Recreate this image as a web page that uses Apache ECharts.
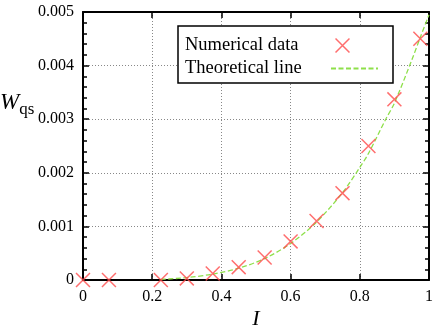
<!DOCTYPE html>
<html>
<head>
    <meta charset="utf-8">
    <title>W_qs vs I</title>
    <script src="https://cdn.jsdelivr.net/npm/echarts@6/dist/echarts.min.js"></script>
    <style>
        html, body { margin: 0; padding: 0; background: #fff; }
        #main { width: 436px; height: 333px; }
    </style>
</head>
<body>
    <div id="main"></div>
    <script type="text/javascript">
        // numerical data (crosses)
        var numI = [0, 0.075, 0.225, 0.3, 0.375, 0.45, 0.525, 0.6, 0.675, 0.75, 0.825, 0.9, 0.975];
        var numW = [0, 0, 0, 0.00003, 0.00012, 0.00024, 0.00042, 0.00072, 0.0011, 0.00162, 0.0025, 0.00337, 0.0045];
        // theoretical line
        var theoI = [0.225, 0.3, 0.375, 0.45, 0.525, 0.6, 0.675, 0.75, 0.8, 0.825, 0.875, 0.9, 0.95, 0.975, 1.0];
        var theoW = [0.00001, 0.000045, 0.00011, 0.00022, 0.0004, 0.00068, 0.00108, 0.00163, 0.0021, 0.00236, 0.0030, 0.0033, 0.0041, 0.00453, 0.00495];
        var xTicks = ['0', '0.2', '0.4', '0.6', '0.8', '1'];
        var yTicks = ['0', '0.001', '0.002', '0.003', '0.004', '0.005'];

        var serif = 'Liberation Serif';
        var crossPath = 'path://M0,0.7L0.7,0L10,9.3L9.3,10Z M9.3,0L10,0.7L0.7,10L0,9.3Z';
        // same cross for the legend, sitting in the left part of a 47x15 box
        var legendCross = 'path://M4,1.05L5.05,0L19,13.95L17.95,15Z M17.95,0L19,1.05L5.05,15L4,13.95Z M0,0 M47,15';

        function pairs(xs, ys) {
            return xs.map(function (x, i) { return [x, ys[i]]; });
        }

        var myChart = echarts.init(document.getElementById('main'));
        var axisLine = { show: true, onZero: false, lineStyle: { color: '#000', width: 2 } };
        var tick = { inside: true, length: 6, lineStyle: { color: '#000', width: 1.5 } };
        var minor = { show: true, splitNumber: 5, length: 4, lineStyle: { color: '#000', width: 1.5 } };
        var grid = { show: true, lineStyle: { color: '#888', width: 1, type: [1, 2] } };
        var tickRich = { a: { fontFamily: serif, fontSize: 16, color: '#000' } };

        var option = {
            animation: false,
            textStyle: { fontFamily: serif },
            grid: { left: 83, right: 7, top: 12, bottom: 53, containLabel: false, outerBoundsMode: 'none' },
            legend: {
                left: 178,
                top: 26,
                orient: 'vertical',
                align: 'right',
                padding: [10, 14, 5, 7],
                itemGap: 4,
                itemWidth: 47,
                itemHeight: 15,
                borderColor: '#000',
                borderWidth: 1.5,
                borderRadius: 0,
                backgroundColor: '#fff',
                formatter: function (name) { return '{t|' + name + '}'; },
                textStyle: {
                    fontFamily: serif, fontSize: 18, color: '#000',
                    rich: { t: { fontFamily: serif, fontSize: 18.5, color: '#000', width: 141, align: 'left', lineHeight: 16 } }
                },
                data: [
                    { name: 'Numerical data', icon: legendCross },
                    { name: 'Theoretical line', itemStyle: { opacity: 0 } }
                ]
            },
            xAxis: [{
                type: 'value',
                min: 0,
                max: 1,
                interval: 0.2,
                name: 'I',
                nameLocation: 'middle',
                nameGap: 28,
                nameMoveOverlap: false,
                nameTextStyle: { fontFamily: serif, fontStyle: 'italic', fontSize: 22, color: '#000' },
                axisLine: axisLine,
                axisTick: tick,
                axisLabel: {
                    margin: 9,
                    rich: tickRich,
                    formatter: function (v) { return '{a|' + xTicks[Math.round(v / 0.2)] + '}'; }
                },
                splitLine: grid
            }, {
                type: 'value',
                position: 'top',
                min: 0,
                max: 1,
                interval: 0.2,
                axisLine: axisLine,
                axisTick: tick,
                axisLabel: { show: false },
                splitLine: { show: false }
            }],
            yAxis: [{
                type: 'value',
                min: 0,
                max: 0.005,
                interval: 0.001,
                axisLine: axisLine,
                axisTick: tick,
                minorTick: minor,
                axisLabel: {
                    margin: 9,
                    rich: tickRich,
                    formatter: function (v) { return '{a|' + yTicks[Math.round(v / 0.001)] + '}'; }
                },
                splitLine: grid
            }, {
                type: 'value',
                position: 'right',
                min: 0,
                max: 0.005,
                interval: 0.001,
                axisLine: axisLine,
                axisTick: tick,
                minorTick: minor,
                axisLabel: { show: false },
                splitLine: { show: false }
            }],
            graphic: [{
                type: 'text',
                left: 0,
                top: 91,
                style: {
                    text: '{w|W}{s|qs}',
                    rich: {
                        w: { fontFamily: serif, fontStyle: 'italic', fontSize: 23, fill: '#000' },
                        s: { fontFamily: serif, fontSize: 17, fill: '#000', padding: [14, 0, 0, 0] }
                    }
                }
            }],
            series: [{
                name: 'Numerical data',
                type: 'scatter',
                symbol: crossPath,
                symbolSize: 15,
                itemStyle: { color: '#ff4a4a' },
                z: 3,
                data: pairs(numI, numW)
            }, {
                name: 'Theoretical line',
                type: 'line',
                symbol: 'none',
                smooth: 0.3,
                lineStyle: { color: '#8ee04a', width: 1.3, type: [5, 2.5] },
                itemStyle: { color: '#8ee04a' },
                z: 2,
                data: pairs(theoI, theoW)
            }]
        };
        myChart.setOption(option);
    </script>
</body>
</html>
